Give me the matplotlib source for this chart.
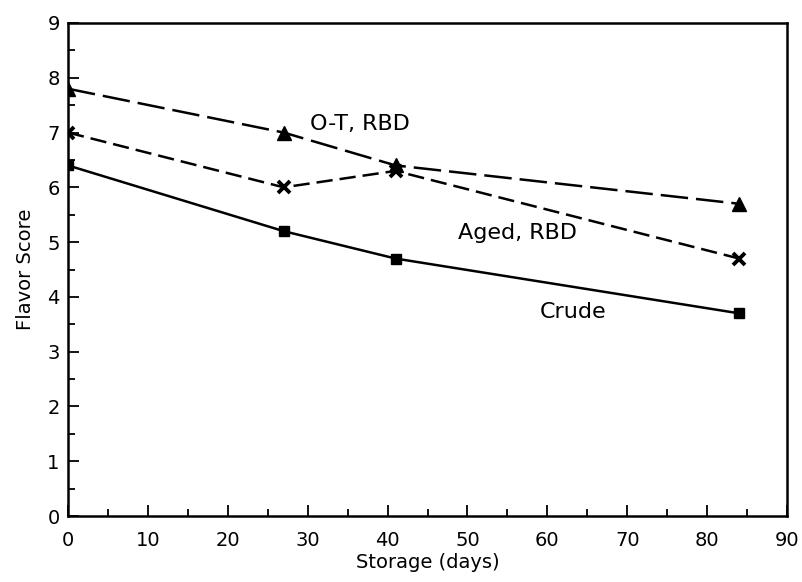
import matplotlib
matplotlib.use("Agg")
import matplotlib.pyplot as plt
from matplotlib.ticker import MultipleLocator

days = [0, 27, 41, 84]
ot_rbd = [7.8, 7.0, 6.4, 5.7]
aged_rbd = [7.0, 6.0, 6.3, 4.7]
crude = [6.4, 5.2, 4.7, 3.7]

fig = plt.figure(figsize=(8.02, 5.82), dpi=100)
ax = fig.add_axes([68/802, 1-516/582, (787-68)/802, (516-23)/582])

ax.plot(days, ot_rbd, color="black", lw=1.8, ls=(0, (11, 3.2)),
        marker="^", ms=10, mfc="black", mec="black")
ax.plot(days, aged_rbd, color="black", lw=1.8, ls=(0, (6.5, 2.8)),
        marker="x", ms=9, mew=2.8, mec="black")
ax.plot(days, crude, color="black", lw=1.8, ls="-",
        marker="s", ms=7.5, mfc="black", mec="black")

ax.text(30.3, 7.15, "O-T, RBD", fontsize=16, va="center", ha="left")
ax.text(48.8, 5.16, "Aged, RBD", fontsize=16, va="center", ha="left")
ax.text(59.1, 3.73, "Crude", fontsize=16, va="center", ha="left")

ax.set_xlim(0, 90)
ax.set_ylim(0, 9)
ax.xaxis.set_major_locator(MultipleLocator(10))
ax.xaxis.set_minor_locator(MultipleLocator(5))
ax.yaxis.set_major_locator(MultipleLocator(1))
ax.yaxis.set_minor_locator(MultipleLocator(0.5))
ax.tick_params(which="both", direction="in", top=False, right=False,
               labelsize=14, width=1.3)
ax.tick_params(which="major", length=8)
ax.tick_params(axis="x", which="major", pad=11)
ax.tick_params(axis="y", which="major", pad=6)
ax.tick_params(which="minor", length=5)
for s in ax.spines.values():
    s.set_linewidth(1.8)

ax.set_xlabel("Storage (days)", fontsize=14, labelpad=2)
ax.set_ylabel("Flavor Score", fontsize=14, labelpad=9)

fig.savefig("out.png", dpi=100)
